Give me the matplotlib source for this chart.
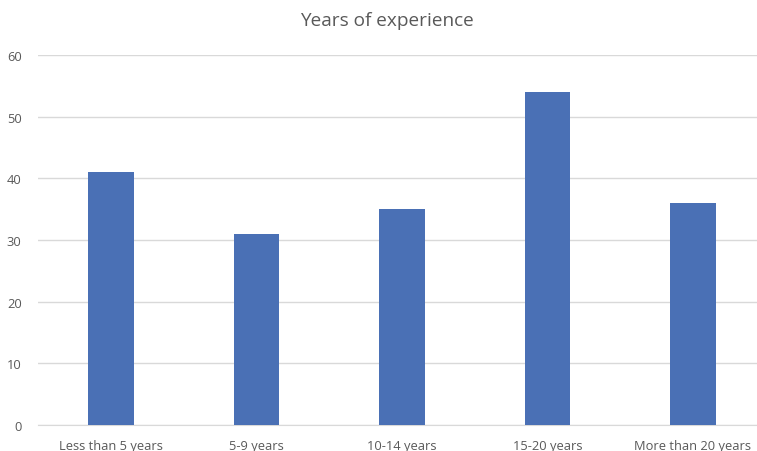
import matplotlib
matplotlib.use("Agg")
import matplotlib.pyplot as plt

categories = ["Less than 5 years", "5-9 years", "10-14 years", "15-20 years", "More than 20 years"]
counts = [41, 31, 35, 54, 36]
y_ticks = [0, 10, 20, 30, 40, 50, 60]

plt.rcParams['font.family'] = ['Open Sans', 'DejaVu Sans']

fig = plt.figure(figsize=(7.57, 4.52), dpi=100)
# plot area runs a little past the right edge, like the original export
ax = fig.add_axes([38.3 / 757, 26 / 452, 727.3 / 757, 370 / 452])

x = list(range(len(categories)))
ax.bar(x, counts, width=0.315, color='#4A70B5', zorder=3)

ax.set_xlim(-0.5, len(categories) - 0.5)
ax.set_ylim(0, 60)
ax.set_yticks(y_ticks)
ax.set_xticks(x)
ax.set_xticklabels(categories)

ax.grid(axis='y', color='#D9D9D9', linewidth=1, zorder=0)
for side in ['top', 'right', 'left']:
    ax.spines[side].set_visible(False)
ax.spines['bottom'].set_color('#D9D9D9')
ax.tick_params(axis='both', length=0, labelsize=9.3, colors='#595959')
ax.tick_params(axis='x', pad=10)
ax.tick_params(axis='y', pad=12)

fig.text(387 / 757, 1 - 21 / 452, "Years of experience", ha='center', va='center',
         fontsize=13.7, color='#595959')

fig.savefig("out.png", dpi=100)
